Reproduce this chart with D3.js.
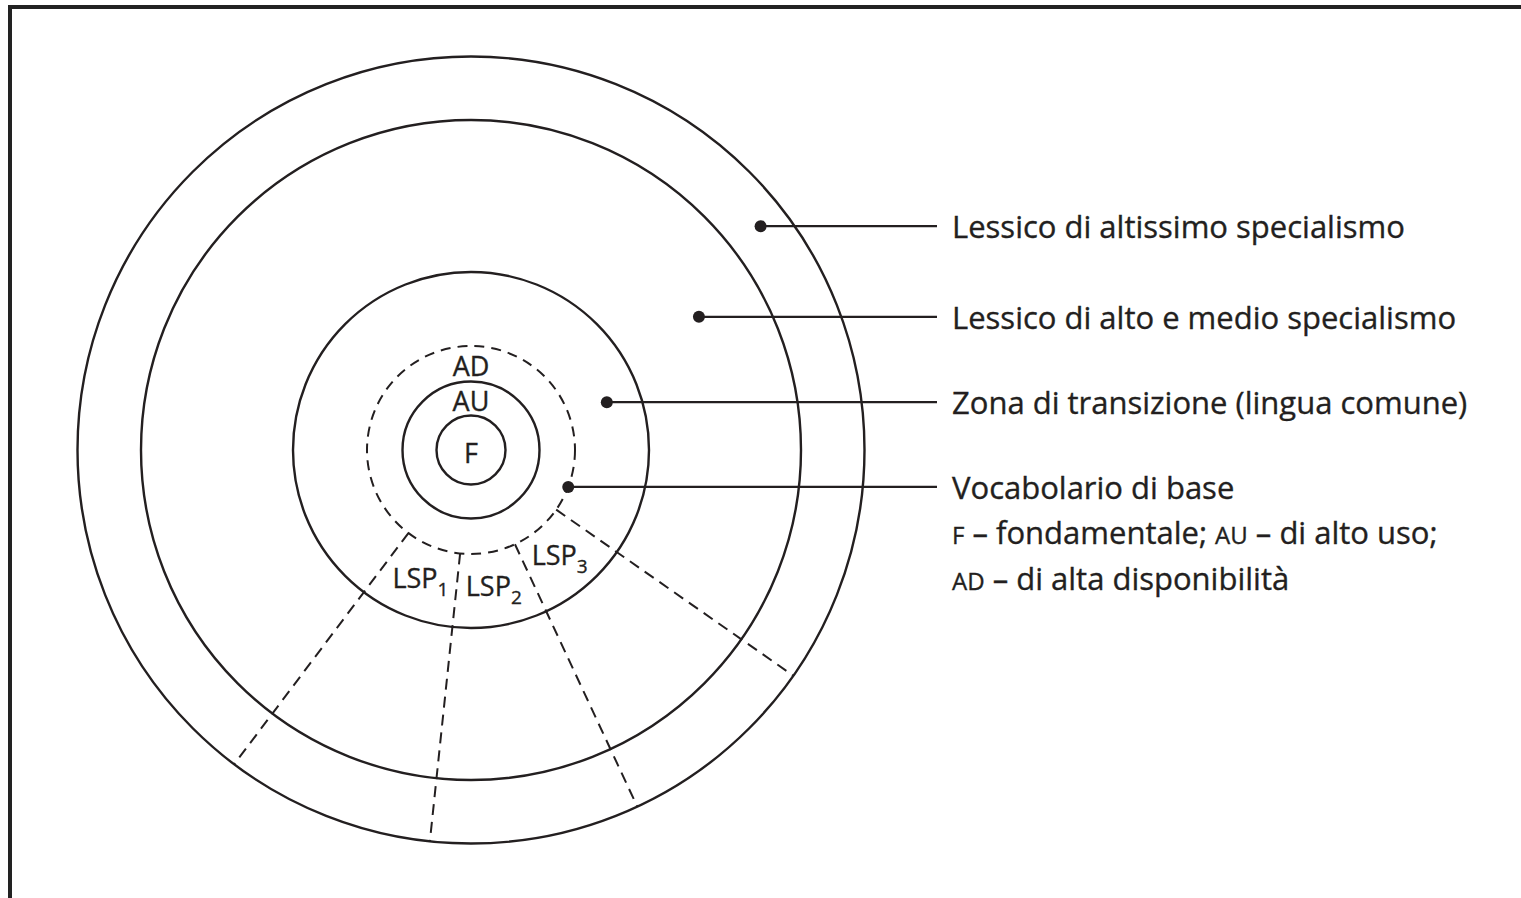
<!DOCTYPE html>
<html>
<head>
<meta charset="utf-8">
<script src="https://cdn.jsdelivr.net/npm/d3@7"></script>
<style>
  html, body { margin: 0; padding: 0; background: #fff; }
  svg { display: block; }
  text { font-family: "Open Sans", "Noto Sans", sans-serif; fill: #231f20; stroke: #231f20; stroke-width: 0.35px; }
</style>
</head>
<body>
<svg id="chart"></svg>
<script>
// rings, from the centre outwards (radius in diagram units)
const ringNames = ["F", "AU", "AD", "transizione", "alto e medio", "altissimo"];
const ringRadius = [34.5, 68.5, 104, 178, 330, 393.5];

// labels written inside the inner rings
const innerLabels = ["F", "AU", "AD"];

// LSP sectors: boundary angles (degrees, clockwise from 3 o'clock)
const sectorBounds = [127, 96, 65, 35];
const sectorNames = ["1", "2", "3"];

// callouts on the right
const calloutLabels = [
  "Lessico di altissimo specialismo",
  "Lessico di alto e medio specialismo",
  "Zona di transizione (lingua comune)",
  "Vocabolario di base",
];
const calloutAngles = [-37.7, -30.3, -19.4, 20.8];
const calloutRadius = [366, 264, 144, 104];

// extra legend rows under "Vocabolario di base"
const legendRows = [
  [["F", "fondamentale; "], ["AU", "di alto uso;"]],
  [["AD", "di alta disponibilità"]],
];

const width = 1521;
const height = 898;
const cx = 471;
const cy = 450;
const outerR = 393.5;
const ink = "#231f20";
const lineEndX = 937;
const textX = 952;
const fontMain = 31;
const fontSmall = 24;
const capMain = fontMain * 0.714;

const svg = d3.select("#chart").attr("width", width).attr("height", height);

// frame (right and bottom sides fall outside the picture)
svg.append("rect")
  .attr("x", 10).attr("y", 7)
  .attr("width", width + 40).attr("height", height + 40)
  .attr("fill", "none").attr("stroke", "#222").attr("stroke-width", 4);

const rScale = d3.scaleLinear().domain([0, d3.max(ringRadius)]).range([0, outerR]);
const toRad = d3.scaleLinear().domain([0, 180]).range([0, Math.PI]);

// screen angle (0 = 3 o'clock, clockwise) -> point
const polar = (r, deg) => {
  const [x, y] = d3.pointRadial(toRad(deg + 90), rScale(r));
  return [cx + x, cy + y];
};

const g = svg.append("g");

// rings
g.selectAll("circle.ring")
  .data(ringNames)
  .join("circle")
  .attr("class", "ring")
  .attr("cx", cx).attr("cy", cy)
  .attr("r", (d, i) => rScale(ringRadius[i]))
  .attr("fill", "none")
  .attr("stroke", ink)
  .attr("stroke-width", (d) => (d === "AD" ? 2 : 2.4))
  .attr("stroke-dasharray", (d) => (d === "AD" ? "10,7" : null));

// dashed sector boundaries, from the AD ring to the outer ring
const adR = ringRadius[ringNames.indexOf("AD")];
g.selectAll("line.sector")
  .data(sectorBounds)
  .join("line")
  .attr("class", "sector")
  .attr("x1", (d) => polar(adR, d)[0])
  .attr("y1", (d) => polar(adR, d)[1])
  .attr("x2", (d) => polar(d3.max(ringRadius), d)[0])
  .attr("y2", (d) => polar(d3.max(ringRadius), d)[1])
  .attr("stroke", ink)
  .attr("stroke-width", 2)
  .attr("stroke-dasharray", "11,7");

// labels inside the inner rings, centred in each band on top
const innerFont = 27;
g.selectAll("text.inner")
  .data(innerLabels)
  .join("text")
  .attr("class", "inner")
  .attr("text-anchor", "middle")
  .attr("font-size", innerFont)
  .attr("x", cx)
  .attr("y", (d, i) => {
    const rIn = i === 0 ? 0 : ringRadius[i - 1];
    const rMid = i === 0 ? 0 : (rIn + ringRadius[i]) / 2;
    return cy - rScale(rMid) + innerFont * 0.714 / 2 + 3;
  })
  .text((d) => d);

// LSP labels in the middle of each sector
const lspFont = 27;
const lsp = g.selectAll("text.lsp")
  .data(sectorNames)
  .join("text")
  .attr("class", "lsp")
  .attr("text-anchor", "middle")
  .attr("font-size", lspFont)
  .attr("x", (d, i) => polar(138, (sectorBounds[i] + sectorBounds[i + 1]) / 2)[0])
  .attr("y", (d, i) => polar(138, (sectorBounds[i] + sectorBounds[i + 1]) / 2)[1] + lspFont * 0.714 / 2);
lsp.append("tspan").text("LSP");
lsp.append("tspan").attr("font-size", 19).attr("dy", 8).text((d) => d);

// callouts: dot, leader line, label
const callouts = g.selectAll("g.callout")
  .data(calloutLabels)
  .join("g")
  .attr("class", "callout");

callouts.append("line")
  .attr("x1", (d, i) => polar(calloutRadius[i], calloutAngles[i])[0])
  .attr("y1", (d, i) => polar(calloutRadius[i], calloutAngles[i])[1])
  .attr("x2", lineEndX)
  .attr("y2", (d, i) => polar(calloutRadius[i], calloutAngles[i])[1])
  .attr("stroke", ink)
  .attr("stroke-width", 2.2);

callouts.append("circle")
  .attr("cx", (d, i) => polar(calloutRadius[i], calloutAngles[i])[0])
  .attr("cy", (d, i) => polar(calloutRadius[i], calloutAngles[i])[1])
  .attr("r", 6)
  .attr("fill", ink);

callouts.append("text")
  .attr("x", textX)
  .attr("y", (d, i) => polar(calloutRadius[i], calloutAngles[i])[1] + capMain / 2 + 1)
  .attr("font-size", fontMain)
  .text((d) => d);

// legend rows for the basic vocabulary
const baseY = polar(calloutRadius[3], calloutAngles[3])[1] + capMain / 2 + 1;
const rows = g.selectAll("text.legend")
  .data(legendRows)
  .join("text")
  .attr("class", "legend")
  .attr("x", textX)
  .attr("y", (d, i) => baseY + 45.5 * (i + 1))
  .attr("font-size", fontMain);

rows.each(function (row) {
  const t = d3.select(this);
  row.forEach(([code, desc]) => {
    t.append("tspan").attr("font-size", fontSmall).text(code);
    t.append("tspan").text(" \u2013 " + desc);
  });
});
</script>
</body>
</html>
